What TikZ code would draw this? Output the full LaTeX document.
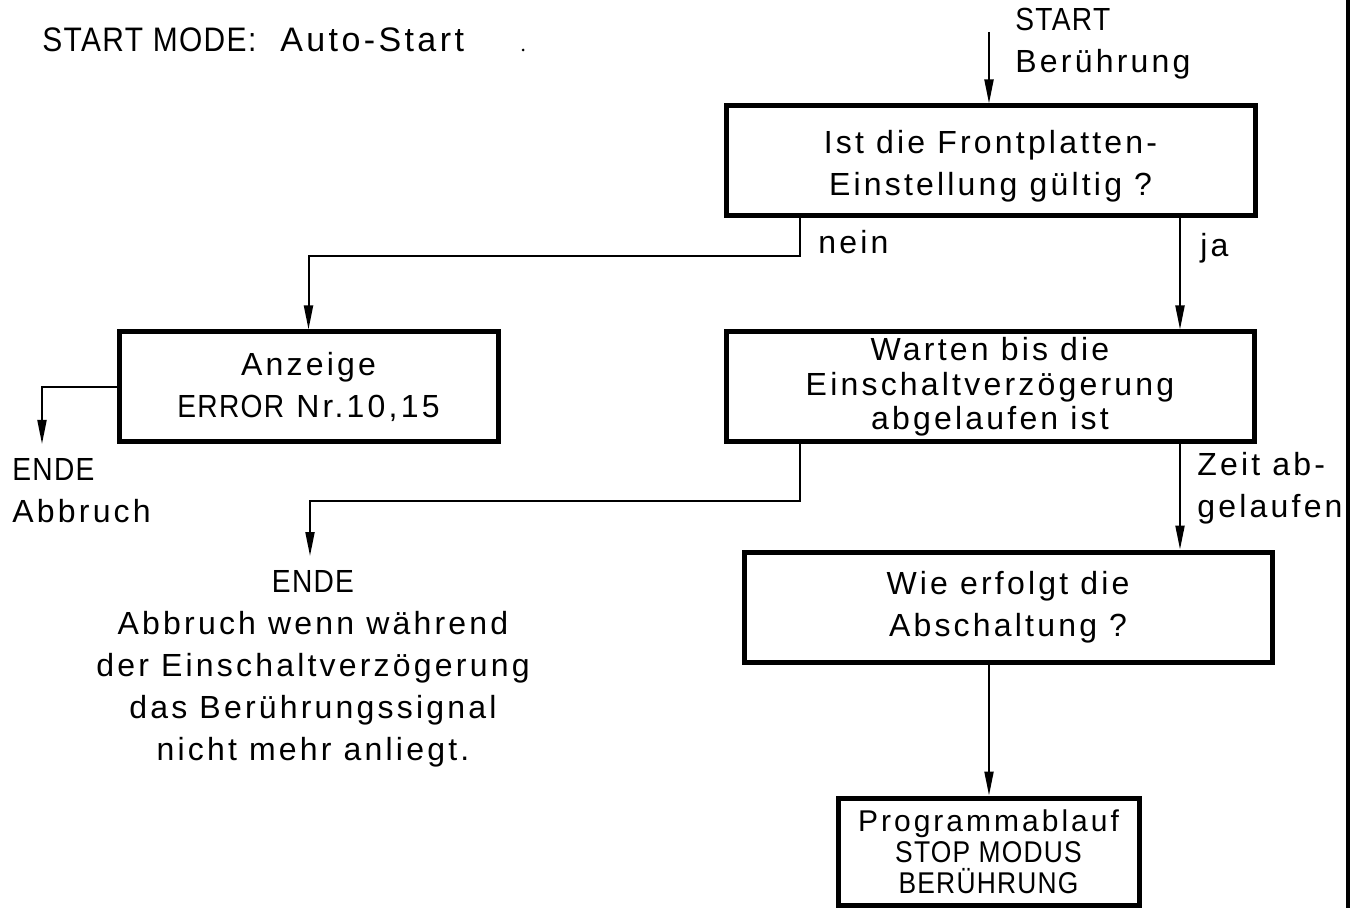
\documentclass[tikz,border=0pt]{standalone}
\usepackage{fontspec}
\setmainfont{Liberation Sans}[LetterSpace=10]
\newfontfamily\capsf{Liberation Sans}[LetterSpace=4,FakeStretch=0.88]
\usetikzlibrary{arrows.meta}
\begin{document}
\begin{tikzpicture}[x=0.5pt,y=-0.5pt,
  box/.style={draw,line width=2.5pt,inner sep=0pt,align=center,font=\fontsize{16}{21}\selectfont},
  arr/.style={line width=1pt,-{Triangle[length=12pt,width=4.5pt]}},
  lbl/.style={inner sep=0pt,align=left,anchor=west,font=\fontsize{16}{21}\selectfont}]
\useasboundingbox (0,0) rectangle (1358,908);
% frame line at right
\draw[line width=1.6pt] (1348,0) -- (1348,908);
% header
\node[lbl,font=\fontsize{17}{21}\selectfont] (hdr) at (42,40) {{\capsf START MODE:}\hspace{12pt}Auto-Start};
\fill (523,50) circle (1.5);
% boxes
\node[box,minimum width=264.5pt,minimum height=55pt] (b1) at (990.5,161) {\rule{0pt}{17pt}Ist die Frontplatten-\\Einstellung gültig ?};
\node[box,minimum width=189.5pt,minimum height=55pt] (b2) at (308.5,387) {Anzeige\\{\capsf ERROR} Nr.10,15};
\node[box,minimum width=264pt,minimum height=55pt,font=\fontsize{16}{17.25}\selectfont] (b3) at (990,387) {Warten bis die\\Einschaltverzögerung\\abgelaufen ist};
\node[box,minimum width=264pt,minimum height=55pt] (b4) at (1008,607) {Wie erfolgt die\\Abschaltung ?};
\node[box,minimum width=150.5pt,minimum height=53.5pt,font=\fontsize{15}{15.5}\selectfont] (b5) at (988.5,851.5) {Programmablauf\\{\capsf STOP MODUS}\\{\capsf BERÜHRUNG}};
% text nodes
\node[lbl] (st) at (1015,44) {{\capsf START}\\Berührung};
\node[lbl] (e1) at (12,491) {{\capsf ENDE}\\Abbruch};
\node[inner sep=0pt,align=center,anchor=north,font=\fontsize{16}{21}\selectfont] (e2) at (313,570) {{\capsf ENDE}\\Abbruch wenn während\\der Einschaltverzögerung\\das Berührungssignal\\nicht mehr anliegt.};
\node[lbl] (nein) at (818,242) {nein};
\node[lbl] (ja) at (1200,248) {ja};
\node[lbl] (zeit) at (1197,488) {Zeit ab-\\gelaufen};
% coordinates
\coordinate (xs) at (989,32);
\coordinate (xn) at (800,0);
\coordinate (xj) at (1180,0);
\coordinate (c1) at (42,444);
\coordinate (c2) at (310,556);
% connectors
\draw[arr] (xs) -- (xs |- b1.north);
\draw[arr] (b1.south -| xn) -- ++(0,38) -| (b2.north);
\draw[arr] (b1.south -| xj) -- (b3.north -| xj);
\draw[arr] (b2.west) -| (c1);
\draw[arr] (b3.south -| xn) -- ++(0,56) -| (c2);
\draw[arr] (b3.south -| xj) -- (b4.north -| xj);
\draw[arr] (b4.south -| xs) -- (b5.north -| xs);
\end{tikzpicture}
\end{document}
